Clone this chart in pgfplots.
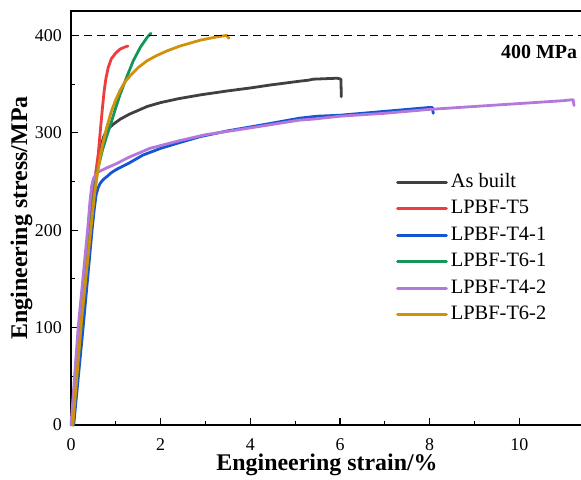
\documentclass[border=0pt]{standalone}
\usepackage{fontspec}
\setmainfont{Liberation Serif}
\usepackage{pgfplots}
\pgfplotsset{compat=1.18}
\definecolor{cgray}{RGB}{64,64,64}
\definecolor{cred}{RGB}{240,60,60}
\definecolor{cblue}{RGB}{20,85,210}
\definecolor{cgreen}{RGB}{20,150,90}
\definecolor{cpurple}{RGB}{180,120,220}
\definecolor{corange}{RGB}{210,145,10}
\begin{document}
\begin{tikzpicture}
\begin{axis}[
  name=ax,
  scale only axis,
  width=512bp, height=414bp,
  xmin=0, xmax=11.42, ymin=0, ymax=425,
  xtick={0,2,4,6,8,10}, ytick={0,100,200,300,400},
  minor x tick num=1, minor y tick num=1,
  xtick pos=bottom, ytick pos=left,
  tick align=inside,
  major tick length=7bp, minor tick length=4bp,
  every tick/.style={black, line width=1.1bp},
  axis line style={line width=1.2bp},
  /pgf/number format/assume math mode=true,
  ticklabel style={font=\fontsize{18}{20}\selectfont, inner sep=0bp},
  yticklabel style={xshift=-9bp},
  xticklabel style={yshift=-13bp},
  xlabel={Engineering strain/\%},
  ylabel={Engineering stress/MPa},
  label style={font=\fontsize{24}{28}\selectfont\bfseries},
  xlabel style={at={(axis description cs:0.5,0)}, anchor=center, yshift=-39.5bp},
  ylabel style={at={(axis description cs:0,0.5)}, anchor=center, rotate=0, yshift=49.5bp},
  legend cell align=left,
  legend style={draw=none, fill=none, at={(axis cs:7.18,265)}, anchor=north west,
    font=\fontsize{20.5}{24}\selectfont, row sep=0bp,
    nodes={inner ysep=4.25bp, inner xsep=3bp, text height=14bp, text depth=4bp}},
  legend image code/.code={\draw[#1, line width=2.8bp] (0bp,0bp) -- (49bp,0bp);},
  every axis plot/.append style={line width=2.8bp, line join=round, line cap=round},
  clip=false,
]
\addplot[cgray] coordinates {(0.05,0) (0.25,110) (0.44,200) (0.55,250) (0.62,275) (0.68,288) (0.73,296) (0.78,301) (0.85,305) (0.95,309) (1.1,314) (1.3,319) (1.5,323) (1.7,327) (2.0,331) (2.4,335) (2.9,339) (3.5,343) (4.0,346) (4.44,349) (5.11,353) (5.3,354) (5.4,355) (5.94,356) (6.02,355) (6.03,337)};
\addlegendentry{As built}
\addplot[cred] coordinates {(0.02,0) (0.22,110) (0.4,200) (0.54,255) (0.61,279) (0.66,305) (0.70,325) (0.74,343) (0.78,356) (0.83,367) (0.9,376) (1.0,382) (1.1,386) (1.2,388) (1.27,389)};
\addlegendentry{LPBF-T5}
\addplot[cblue] coordinates {(0.06,0) (0.27,100) (0.47,200) (0.52,222) (0.56,236) (0.6,243) (0.65,248) (0.72,252) (0.8,255) (0.9,259) (1.0,262) (1.3,269) (1.6,277) (2.0,284) (2.43,290) (2.88,296) (3.5,302) (4.0,306) (4.5,310) (5.1,315) (5.5,317) (6.0,318) (7.0,322) (8.0,326) (8.06,326) (8.08,320)};
\addlegendentry{LPBF-T4-1}
\addplot[cgreen] coordinates {(0.04,0) (0.24,110) (0.43,200) (0.52,240) (0.6,263) (0.7,282) (0.8,297) (0.9,311) (1.0,326) (1.1,340) (1.25,358) (1.39,374) (1.55,388) (1.7,398) (1.78,402)};
\addlegendentry{LPBF-T6-1}
\addplot[cpurple] coordinates {(0,0) (0.16,100) (0.37,200) (0.42,228) (0.46,245) (0.5,253) (0.55,257) (0.62,260) (0.8,264) (1.0,268) (1.3,275) (1.76,284) (2.43,292) (3.0,298) (4.0,305) (5.1,313) (5.4,314) (6.0,317) (7.0,320) (8.0,324) (9.0,327) (10.0,330) (11.0,333) (11.2,334) (11.22,328)};
\addlegendentry{LPBF-T4-2}
\addplot[corange] coordinates {(0.04,0) (0.24,110) (0.44,200) (0.52,235) (0.6,262) (0.7,287) (0.8,306) (0.9,322) (1.0,334) (1.1,344) (1.2,352) (1.35,360) (1.5,367) (1.7,374) (1.9,379) (2.14,384) (2.43,389) (2.88,395) (3.2,398) (3.47,400) (3.52,397)};
\addlegendentry{LPBF-T6-2}
\addplot[black, line width=1.3bp, line cap=butt, dash pattern=on 8bp off 5bp, forget plot] coordinates {(0,400) (11.42,400)};
\node[anchor=east, inner sep=0bp, font=\fontsize{20}{24}\selectfont\bfseries] at (axis cs:11.29,383) {400 MPa};
\end{axis}
\pgfresetboundingbox
\path ([xshift=-71bp,yshift=-55bp]ax.south west) rectangle ([xshift=-2bp,yshift=11bp]ax.north east);
\end{tikzpicture}
\end{document}
